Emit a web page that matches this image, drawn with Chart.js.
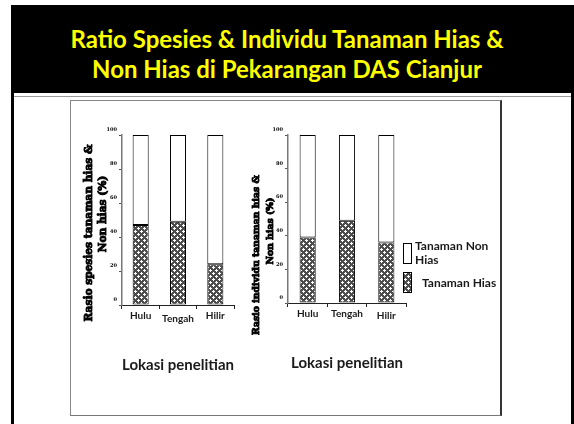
<!DOCTYPE html>
<html><head><meta charset="utf-8">
<script src="https://cdn.jsdelivr.net/npm/chart.js@4.4.0/dist/chart.umd.min.js"></script>
<style>
html,body{margin:0;padding:0;background:#fff;width:574px;height:424px;overflow:hidden;}
body{position:relative;}
.abs{position:absolute;}
#banner{left:11px;top:5px;width:563px;height:88px;background:#000;}
#title{left:11px;top:24px;width:552px;text-align:center;color:#ffff00;font-family:Lato,sans-serif;font-weight:bold;font-size:22px;line-height:30px;white-space:nowrap;}
#lbar{left:11px;top:5px;width:3px;height:419px;background:#000;}
#rbar{left:571px;top:93px;width:3px;height:331px;background:#000;}
#hline{left:14px;top:96px;width:557px;height:1px;background:#9a9a9a;}
#frame{left:70px;top:100px;width:429px;height:314px;border-left:1px solid #888;border-top:1px solid #888;border-bottom:1px solid #777;border-right:2px solid #333;}
#c1{left:72px;top:102px;}
#c2{left:240px;top:102px;}
</style></head>
<body>
<div id="banner" class="abs"></div>
<div id="lbar" class="abs"></div>
<div id="rbar" class="abs"></div>
<div id="hline" class="abs"></div>
<div id="frame" class="abs"></div>
<div id="title" class="abs"></div>
<canvas id="c1" class="abs" width="168" height="310" style="width:168px;height:310px"></canvas>
<canvas id="c2" class="abs" width="258" height="310" style="width:258px;height:310px"></canvas>
<script>
// ---- data ----
const pageTitle = ['Ratio Spesies & Individu Tanaman Hias &', 'Non Hias di Pekarangan DAS Cianjur'];
const categories = ['Hulu', 'Tengah', 'Hilir'];
const seriesHiasName = 'Tanaman Hias';
const seriesNonHiasName = 'Tanaman Non Hias';
const spesiesHias = [47, 49, 24];
const spesiesNonHias = [53, 51, 76];
const individuHias = [39, 49, 36];
const individuNonHias = [61, 51, 64];
const yTickValues = [0, 20, 40, 60, 80, 100];
const yTitleSpesies = ['Rasio spesies tanaman hias &', 'Non hias (%)'];
const yTitleIndividu = ['Rasio individu tanaman hias &', 'Non hias (%)'];
const xTitleText = 'Lokasi penelitian';

// ---- title ----
const titleEl = document.getElementById('title');
titleEl.innerHTML = pageTitle.map(t => t.replace(/&/g, '&amp;')).join('<br>');
(function fitTitle(){
  const c = document.createElement('canvas').getContext('2d');
  c.font = 'bold 100px Lato';
  const w = c.measureText(pageTitle[0]).width;
  titleEl.style.fontSize = (100 * 434 / w).toFixed(2) + 'px';
})();

// ---- pattern ----
function makePattern(){
  const t = document.createElement('canvas');
  t.width = 6; t.height = 6;
  const g = t.getContext('2d');
  g.fillStyle = '#4d4d4d'; g.fillRect(0,0,6,6);
  g.fillStyle = '#ffffff';
  g.fillRect(3,2,1,3); g.fillRect(2,3,3,1);
  g.fillRect(0,0,1,1); g.fillRect(5,0,1,1); g.fillRect(0,5,1,1); g.fillRect(0,1,1,1); g.fillRect(1,0,1,1);
  return t.getContext('2d').createPattern(t, 'repeat');
}
const hatch = makePattern();

// ---- plugin: y titles + legend ----
const decor = {
  id: 'decor',
  afterDraw(chart, args, opts) {
    const ctx = chart.ctx;
    const area = chart.chartArea;
    ctx.save();
    if (opts.yTitle) {
      ctx.font = 'bold 10px "DejaVu Serif"';
      const w = ctx.measureText(opts.yTitle[0]).width;
      const size = 10 * opts.fitLen / w;
      ctx.font = 'bold ' + size.toFixed(2) + 'px "DejaVu Serif"';
      ctx.fillStyle = '#000';
      ctx.strokeStyle = '#000';
      ctx.lineWidth = 0.9;
      ctx.textAlign = 'center';
      ctx.textBaseline = 'middle';
      opts.yTitle.forEach((line, i) => {
        ctx.save();
        ctx.translate(opts.xs[i], opts.ys[i]);
        ctx.rotate(-Math.PI / 2);
        ctx.fillText(line, 0, 0);
        ctx.strokeText(line, 0, 0);
        ctx.restore();
      });
    }
    if (opts.legend) {
      const ds = chart.data.datasets.slice().reverse();
      const bx = area.right - 3;
      ctx.font = 'bold 12px Lato';
      ctx.textAlign = 'left';
      ctx.textBaseline = 'middle';
      ds.forEach((d, i) => {
        const top = area.top + (i === 0 ? 108 : 137);
        ctx.fillStyle = d.backgroundColor;
        ctx.fillRect(bx, top, 9, 21);
        ctx.strokeStyle = '#000';
        ctx.lineWidth = 1;
        ctx.strokeRect(bx + 0.5, top + 0.5, 8, 20);
        ctx.fillStyle = '#1a1a1a';
        const tx = bx + (i === 0 ? 12 : 19);
        const maxW = 82;
        const words = d.label.split(' ');
        const lines = []; let cur = '';
        words.forEach(wd => {
          const test = cur ? cur + ' ' + wd : wd;
          if (ctx.measureText(test).width > maxW && cur) { lines.push(cur); cur = wd; } else cur = test;
        });
        lines.push(cur);
        const cy = lines.length > 1 ? top + 3 : top + 11;
        lines.forEach((l, j) => ctx.fillText(l, tx, cy + j * 14));
      });
    }
    ctx.restore();
  }
};

function makeChart(id, hias, nonHias, yTitle, opts) {
  return new Chart(document.getElementById(id), {
    type: 'bar',
    data: {
      labels: categories,
      datasets: [
        { label: seriesHiasName, data: hias, backgroundColor: hatch, borderColor: '#000', borderWidth: 1, borderSkipped: false,
          categoryPercentage: 1, barPercentage: opts.barPct },
        { label: seriesNonHiasName, data: nonHias, backgroundColor: '#ffffff', borderColor: '#000', borderWidth: 1, borderSkipped: false,
          categoryPercentage: 1, barPercentage: opts.barPct }
      ]
    },
    options: {
      responsive: false,
      animation: false,
      devicePixelRatio: 1,
      layout: { padding: { top: opts.padTop, right: opts.padRight, left: 0, bottom: 0 } },
      plugins: {
        legend: { display: false },
        tooltip: { enabled: false },
        decor: { yTitle: yTitle, xs: opts.titleXs, ys: opts.titleYs, fitLen: opts.fitLen, legend: opts.legend }
      },
      scales: {
        x: {
          stacked: true,
          border: { color: '#222', width: 1 },
          grid: { display: true, drawOnChartArea: false, tickLength: 4, color: '#222', offset: true },
          ticks: {
            color: '#1a1a1a', padding: 1, autoSkip: false, maxRotation: 0, minRotation: 0,
            font: (c) => ({ family: 'Lato', weight: 'bold', size: 10, lineHeight: (opts.tickLH[c.index] || 12) + 'px' })
          },
          title: { display: true, text: xTitleText, color: '#1a1a1a', font: { family: 'Lato', weight: 'bold', size: 15 }, padding: { top: 0, bottom: opts.xTitlePad } },
          afterFit: (s) => { s.height = opts.xH; }
        },
        y: {
          stacked: true,
          min: 0, max: 100,
          afterBuildTicks: (s) => { s.ticks = yTickValues.map(v => ({ value: v })); },
          border: { color: '#777', width: 1.5 },
          grid: { display: true, drawOnChartArea: false, tickLength: 3, color: '#555' },
          ticks: { color: '#000', padding: 2, labelOffset: -5, font: { family: 'DejaVu Serif', weight: 'bold', size: 5 } },
          afterFit: (s) => { s.width = opts.yW; }
        }
      }
    },
    plugins: [decor]
  });
}

makeChart('c1', spesiesHias, spesiesNonHias, yTitleSpesies, {
  barPct: 0.43, padTop: 33, padRight: 6, yW: 50, xH: 107, xTitlePad: 38,
  titleXs: [17, 31], titleYs: [131, 112], fitLen: 177, legend: false,
  tickLH: [12, 18, 12]
});
makeChart('c2', individuHias, individuNonHias, yTitleIndividu, {
  barPct: 0.41, padTop: 33, padRight: 92, yW: 48, xH: 109, xTitlePad: 40,
  titleXs: [17, 31], titleYs: [153, 129], fitLen: 160, legend: true,
  tickLH: [12, 12, 16]
});
</script>
</body></html>
